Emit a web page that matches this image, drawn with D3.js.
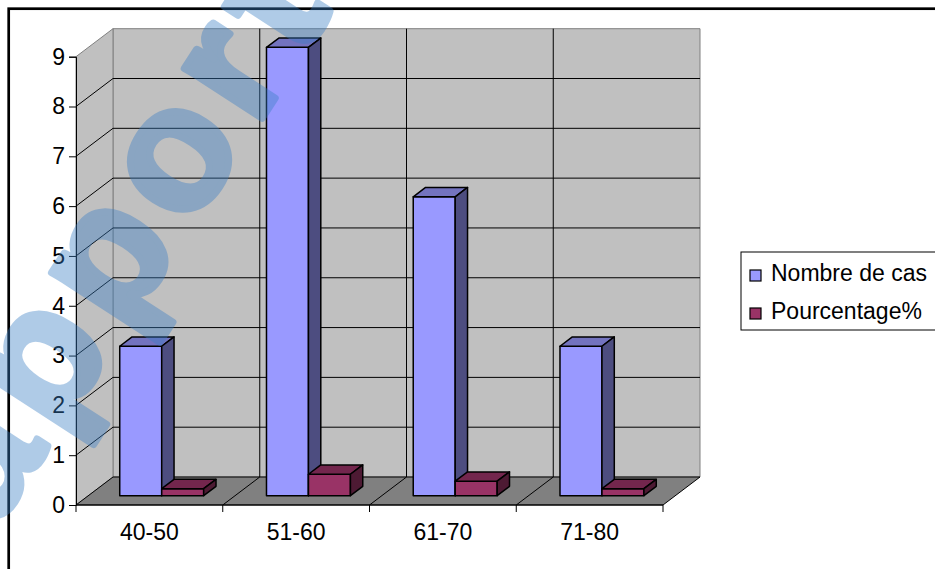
<!DOCTYPE html>
<html>
<head>
<meta charset="utf-8">
<script src="https://cdnjs.cloudflare.com/ajax/libs/d3/7.8.5/d3.min.js"></script>
<style>
  body { margin: 0; background: #fff; }
  svg { display: block; }
  text { font-family: "Liberation Sans", Arial, sans-serif; }
</style>
</head>
<body>
<div id="chart"></div>
<script>
// data
var categories = ["40-50", "51-60", "61-70", "71-80"];
var seriesNames = ["Nombre de cas", "Pourcentage%"];
var nombreDeCas = [3, 9, 6, 3];
var pourcentage = [0.14, 0.43, 0.29, 0.14];
var yTicks = [0, 1, 2, 3, 4, 5, 6, 7, 8, 9];
var watermarkText = "rapport";

var width = 935, height = 569;
var fontSize = 23;
var svg = d3.select("#chart").append("svg").attr("width", width).attr("height", height);

// outer frame (runs past the window on right and bottom)
svg.append("rect").attr("x", 8.7).attr("y", 8.7).attr("width", 1000).attr("height", 1000)
    .attr("fill", "none").attr("stroke", "#000").attr("stroke-width", 2.7);

// scales (front plane)
var x = d3.scaleBand().domain(categories).range([76, 663]).padding(0);
var gap = x.bandwidth() * 0.214;
var xs = d3.scaleBand().domain(seriesNames).range([gap, x.bandwidth() - gap]).padding(0);
var y = d3.scaleLinear().domain([0, 9]).range([505, 56.7]);
var depthX = 37, depthY = 28;

// project a front-plane point back by depth fraction d
function P(px, py, d) {
    return [px + d * depthX, py - d * depthY];
}
function poly(pts) {
    return pts.map(function (p) { return p[0] + "," + p[1]; }).join(" ");
}

var x0 = x.range()[0], x1 = x.range()[1];
var yTop = y(9), yBot = y(0);

// walls
var walls = svg.append("g");
walls.append("polygon")
    .attr("points", poly([P(x0, yTop, 1), P(x1, yTop, 1), P(x1, yBot, 1), P(x0, yBot, 1)]))
    .attr("fill", "#c0c0c0").attr("stroke", "#808080").attr("stroke-width", 1);
walls.append("polygon")
    .attr("points", poly([P(x0, yTop, 0), P(x0, yTop, 1), P(x0, yBot, 1), P(x0, yBot, 0)]))
    .attr("fill", "#c0c0c0").attr("stroke", "#808080").attr("stroke-width", 1);
walls.append("polygon")
    .attr("points", poly([P(x0, yBot, 0), P(x1, yBot, 0), P(x1, yBot, 1), P(x0, yBot, 1)]))
    .attr("fill", "#808080").attr("stroke", "#000").attr("stroke-width", 1);

// horizontal gridlines on back + side wall
var gridVals = yTicks.filter(function (v) { return v > 0 && v < 9; });
walls.selectAll(".hgrid").data(gridVals).enter().append("polyline")
    .attr("class", "hgrid")
    .attr("points", function (v) { return poly([P(x0, y(v), 0), P(x0, y(v), 1), P(x1, y(v), 1)]); })
    .attr("fill", "none").attr("stroke", "#000").attr("stroke-width", 1);

// vertical gridlines on back wall + floor lines
var bounds = categories.slice(1).map(function (c) { return x(c); });
walls.selectAll(".vgrid").data(bounds).enter().append("polyline")
    .attr("class", "vgrid")
    .attr("points", function (bx) { return poly([P(bx, yBot, 0), P(bx, yBot, 1), P(bx, yTop, 1)]); })
    .attr("fill", "none").attr("stroke", "#000").attr("stroke-width", 1);

// axes
var yAxis = d3.axisLeft(y).tickValues(yTicks).tickSize(7).tickPadding(4).tickFormat(d3.format("d"));
var gy = svg.append("g").attr("transform", "translate(" + x0 + ",0)").call(yAxis);
gy.select(".domain").attr("stroke", "#000");
gy.selectAll("text").attr("font-size", fontSize).attr("fill", "#000")
    .attr("font-family", "Liberation Sans, Arial, sans-serif");

var gx = svg.append("g").attr("transform", "translate(0," + yBot + ")");
gx.append("line").attr("x1", x0).attr("x2", x1).attr("stroke", "#000");
gx.selectAll(".xtick").data(categories.map(function (c) { return x(c); }).concat([x1])).enter()
    .append("line").attr("class", "xtick")
    .attr("x1", function (d) { return d; }).attr("x2", function (d) { return d; })
    .attr("y1", 0).attr("y2", 7).attr("stroke", "#000");
gx.selectAll(".xlab").data(categories).enter().append("text")
    .attr("class", "xlab")
    .attr("x", function (c) { return x(c) + x.bandwidth() / 2; })
    .attr("y", 35).attr("text-anchor", "middle").attr("font-size", fontSize)
    .text(function (c) { return c; });

// bars
var seriesData = [
    { name: seriesNames[0], values: nombreDeCas, front: "#9999ff", top: "#7373bf", side: "#4d4d80" },
    { name: seriesNames[1], values: pourcentage, front: "#993366", top: "#73264d", side: "#4d1a33" }
];
var d1 = 1 / 3, d2 = 2 / 3;
var bars = svg.append("g");
categories.forEach(function (c, i) {
    seriesData.forEach(function (s) {
        var bx0 = x(c) + xs(s.name), bx1 = bx0 + xs.bandwidth();
        var yv = y(s.values[i]);
        var g = bars.append("g").attr("stroke", "#000").attr("stroke-width", 1.5).attr("stroke-linejoin", "round");
        g.append("polygon").attr("fill", s.front)
            .attr("points", poly([P(bx0, yv, d1), P(bx1, yv, d1), P(bx1, yBot, d1), P(bx0, yBot, d1)]));
        g.append("polygon").attr("fill", s.top)
            .attr("points", poly([P(bx0, yv, d1), P(bx1, yv, d1), P(bx1, yv, d2), P(bx0, yv, d2)]));
        g.append("polygon").attr("fill", s.side)
            .attr("points", poly([P(bx1, yv, d1), P(bx1, yv, d2), P(bx1, yBot, d2), P(bx1, yBot, d1)]));
    });
});

// legend
var legend = svg.append("g").attr("transform", "translate(741,252)");
legend.append("rect").attr("width", 300).attr("height", 78)
    .attr("fill", "#fff").attr("stroke", "#000").attr("stroke-width", 1);
var li = legend.selectAll(".li").data(seriesData).enter().append("g")
    .attr("transform", function (d, i) { return "translate(9," + (18 + i * 38) + ")"; });
li.append("rect").attr("width", 11).attr("height", 11)
    .attr("fill", function (d) { return d.front; }).attr("stroke", "#000").attr("stroke-width", 1.2);
li.append("text").attr("x", 21).attr("y", 11).attr("font-size", fontSize)
    .text(function (d) { return d.name; });

// watermark
svg.append("g").attr("opacity", 0.4)
    .append("text")
    .attr("transform", "translate(-50,599) rotate(-57)")
    .attr("font-size", 175).attr("font-weight", "bold").attr("letter-spacing", 15)
    .attr("fill", "rgb(58,127,197)").attr("stroke", "rgb(58,127,197)")
    .attr("stroke-width", 7).attr("stroke-linejoin", "round")
    .text(watermarkText);
</script>
</body>
</html>
